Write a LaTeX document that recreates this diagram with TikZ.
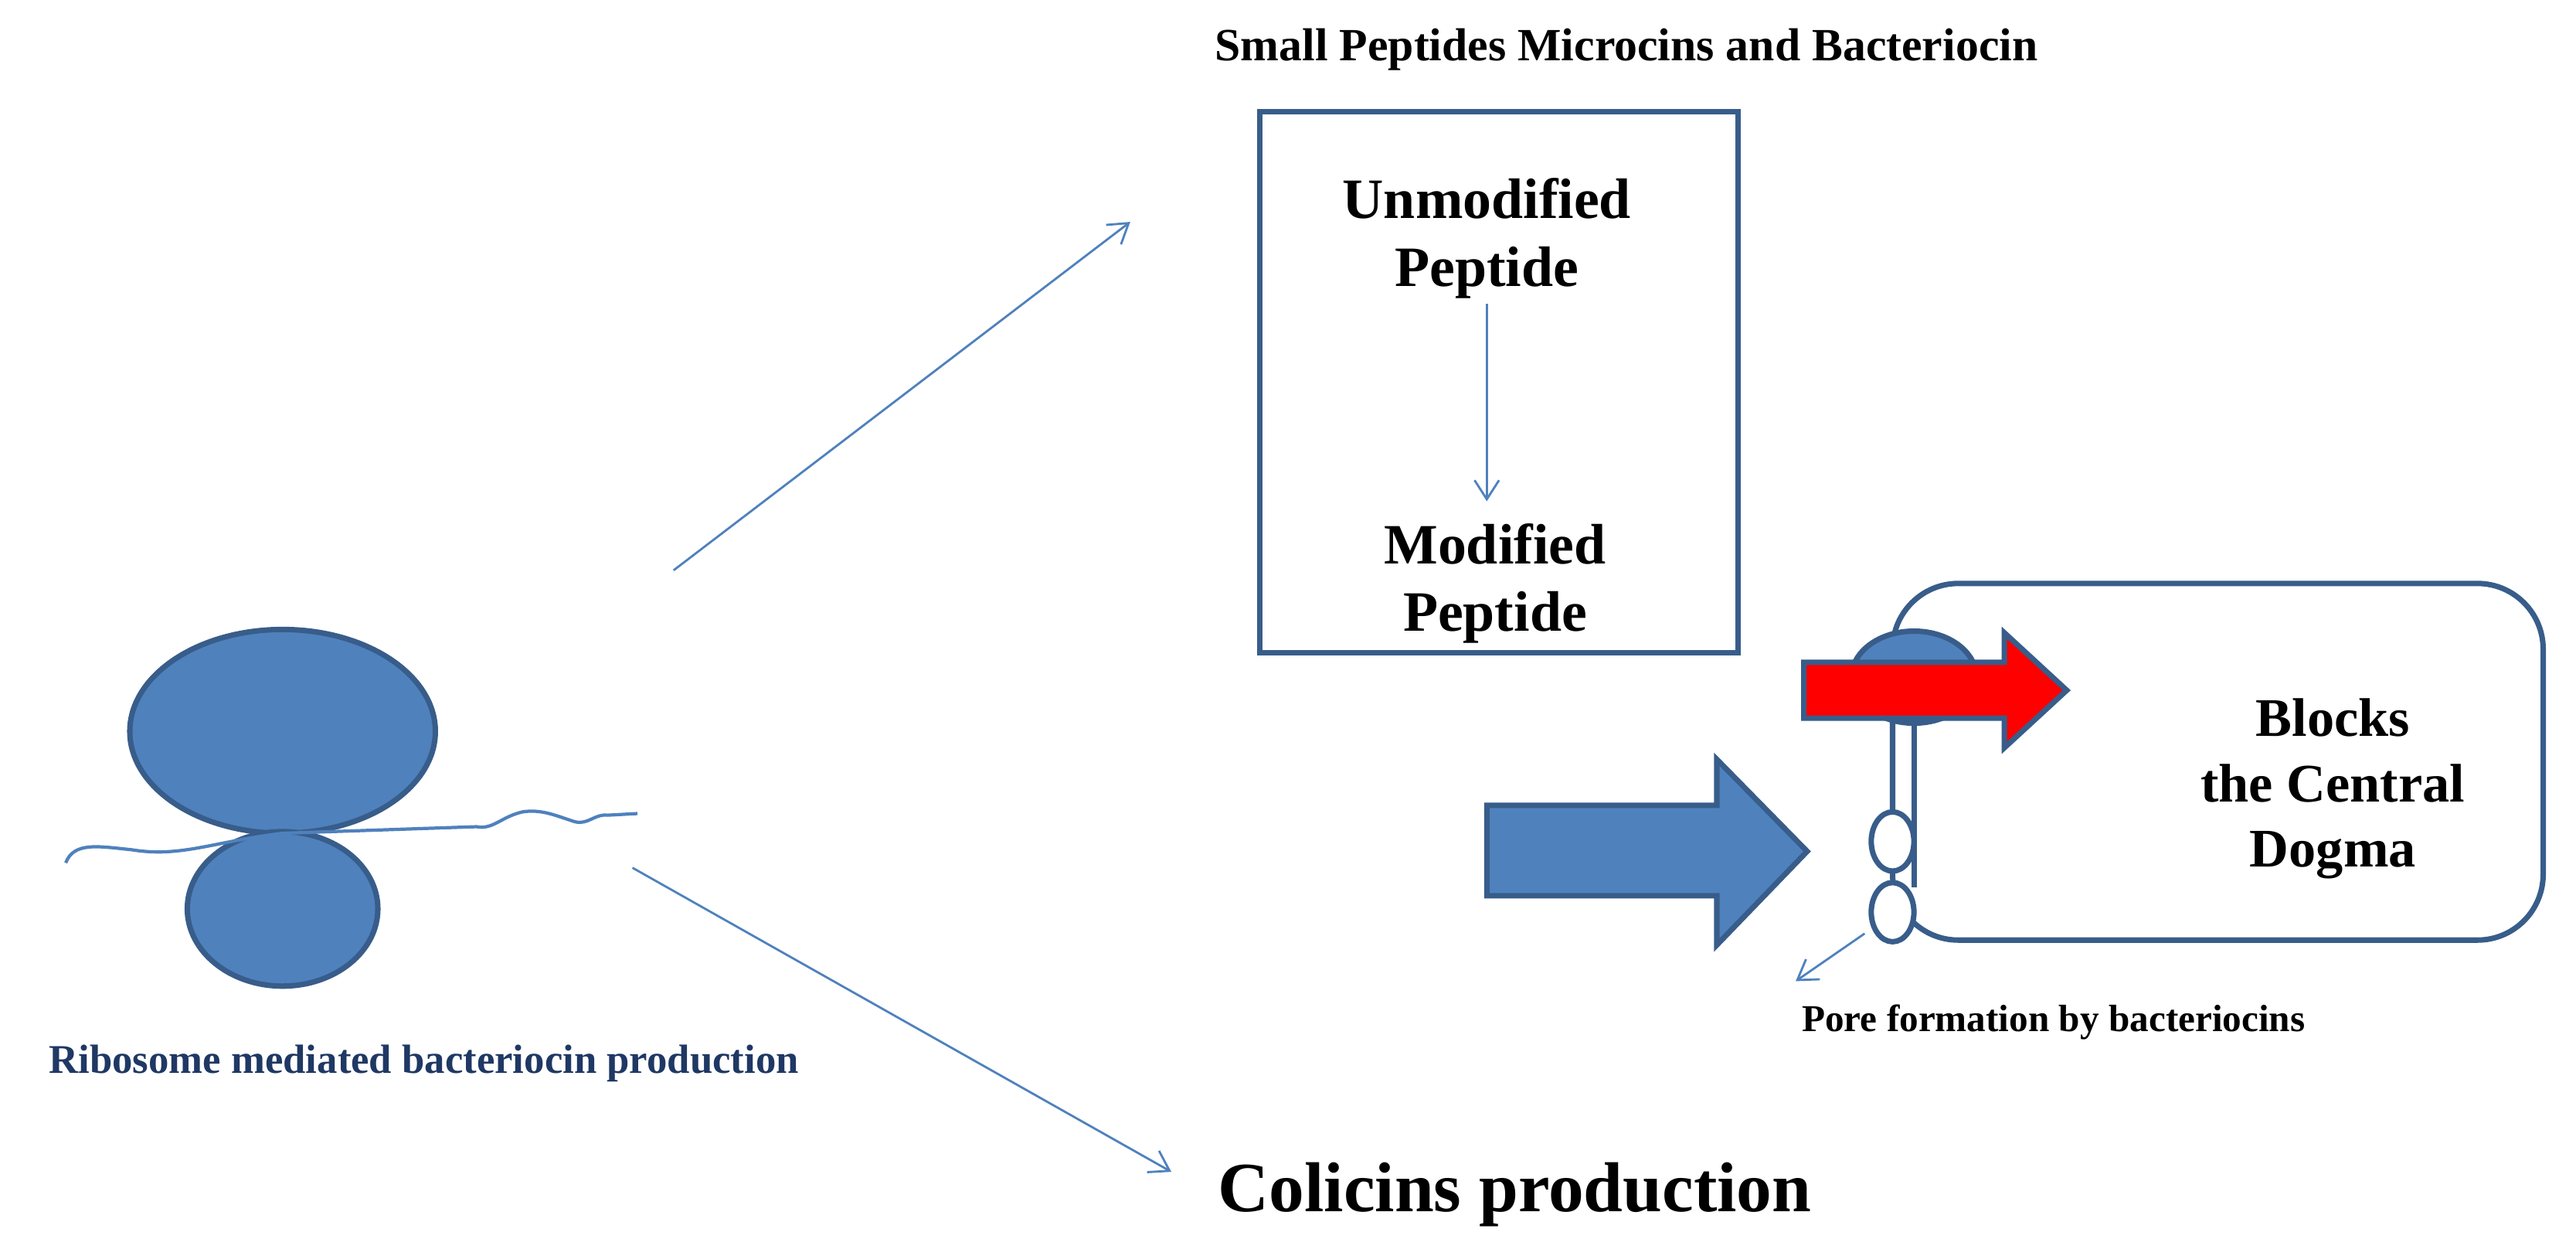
\documentclass[tikz,border=0pt]{standalone}
\usepackage{fontspec}
\setmainfont{Liberation Serif}
\usetikzlibrary{arrows.meta}
\definecolor{bfill}{HTML}{4F81BD}
\definecolor{bline}{HTML}{385D8A}
\definecolor{navy}{HTML}{1F3864}
\begin{document}
\begin{tikzpicture}[x=0.021263cm,y=-0.021263cm,
  lbl/.style={font=\bfseries, align=center, inner sep=0pt},
  thin/.style={draw=bfill, line width=0.8pt, -{Straight Barb[length=7pt,width=9pt]}},
  blob/.style={fill=bfill, draw=bline, line width=2pt}]
\useasboundingbox (0,0) rectangle (1568,757.7);
\node[lbl, font=\fontsize{17}{20}\bfseries\selectfont] (title) at (990,30) {Small Peptides Microcins and Bacteriocin};
\node[draw=bline, line width=2pt, minimum width=291*0.021263cm, minimum height=329*0.021263cm] (box) at (912.5,232.5) {};
\node[lbl, font=\fontsize{21}{25}\bfseries\selectfont] (unmod) at (905,145) {Unmodified\\Peptide};
\node[lbl, font=\fontsize{21}{25}\bfseries\selectfont] (mod) at (910,355) {Modified\\Peptide};
\coordinate (u1) at (905,185); \coordinate (u2) at (905,305);
\draw[thin] (u1) -- (u2);
\coordinate (a1) at (410,347); \coordinate (a2) at (688,135);
\draw[thin] (a1) -- (a2);
\coordinate (b1) at (385,528); \coordinate (b2) at (713,713);
\draw[thin] (b1) -- (b2);
\node[lbl, font=\fontsize{26}{30}\bfseries\selectfont] (col) at (922,727) {Colicins production};
% ribosome
\draw[blob] (172,445) ellipse (93 and 62);
\draw[blob] (172,553) ellipse (58 and 47);
\draw[bfill, line width=1.2pt] (40,525) .. controls (45,512) and (60,515) .. (80,517)
  .. controls (110,522) and (130,512) .. (172,507) -- (290,503)
  .. controls (300,505) and (305,497) .. (318,494) .. controls (330,492) and (340,497) .. (350,500)
  .. controls (358,502) and (362,495) .. (370,496) -- (388,495);
\node[lbl, font=\fontsize{15}{18}\bfseries\selectfont, text=navy] (ribo) at (258,647) {Ribosome mediated bacteriocin production};
% cell
\draw[bline, line width=2pt, rounded corners=40*0.021263cm] (1152,355) rectangle (1548,572);
\draw[bline, line width=2pt] (1165,440) -- (1165,540);
\draw[blob] (1165,412) ellipse (38 and 28);
\draw[bline, line width=2pt, fill=white] (1152,512) ellipse (13 and 18);
\draw[bline, line width=2pt, fill=white] (1152,555) ellipse (13 and 18);
\draw[blob] (905,490) -- (1045,490) -- (1045,462) -- (1100,518) -- (1045,575) -- (1045,545) -- (905,545) -- cycle;
\draw[fill=red, draw=bline, line width=2pt] (1098,403) -- (1220,403) -- (1220,385) -- (1258,420) -- (1220,455) -- (1220,437) -- (1098,437) -- cycle;
\node[lbl, font=\fontsize{20}{24}\bfseries\selectfont] (dogma) at (1420,480) {Blocks\\the Central\\Dogma};
\coordinate (p1) at (1135,568); \coordinate (p2) at (1093,597);
\draw[thin] (p1) -- (p2);
\node[lbl, font=\fontsize{14}{17}\bfseries\selectfont] (pore) at (1250,622) {Pore formation by bacteriocins};
\end{tikzpicture}
\end{document}
